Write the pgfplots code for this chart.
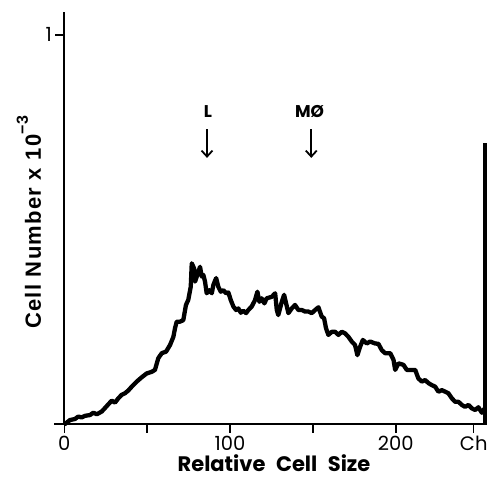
\documentclass[border=0pt]{standalone}
\usepackage{pgfplots}
\pgfplotsset{compat=1.18}
\usetikzlibrary{arrows.meta}
\usepackage{fontspec}
\setmainfont{Poppins}
\newfontfamily\helv{Liberation Sans}[LetterSpace=6]
\begin{document}
\begin{tikzpicture}
\begin{axis}[
  at={(54pt,78pt)}, anchor=south west,
  scale only axis,
  width=433pt, height=412pt,
  xmin=-6.2, xmax=255,
  ymin=0, ymax=1.059,
  axis x line=bottom,
  axis y line=middle,
  axis line style={-, line width=1.6pt},
  hide obscured x ticks=false,
  tick align=outside,
  major tick length=9pt,
  tick style={line width=1.4pt, black},
  xtick={0,50,100,150,200,247},
  xticklabels={0,,100,,200,Ch},
  ytick={1},
  yticklabels={1},
  /pgf/number format/assume math mode=true,
  tick label style={font=\fontsize{19.5}{19.5}\selectfont},
  xlabel={Relative\enspace Cell\enspace Size},
  xlabel style={at={(axis description cs:0.508,-0.094)}, anchor=center,
    font=\fontsize{21}{21}\selectfont\bfseries},
  ylabel={Cell Number x 10\raisebox{1.1ex}{\fontsize{16}{16}\selectfont −3}},
  ylabel style={at={(axis description cs:-0.058,0.49)}, anchor=center, rotate=90,
    font=\fontsize{22}{22}\selectfont\helv\bfseries},
  clip=false,
]
% histogram trace
\addplot[black, line width=4.3pt, line join=round] coordinates {
(0,0)(0.4,0)(3.4,0.010)(6.5,0.013)(8.4,0.019)(10.5,0.017)(12.5,0.021)
(15.5,0.023)(17.5,0.029)(19.6,0.025)(22.6,0.032)(25.6,0.046)(28.6,0.060)
(30.6,0.055)(32.6,0.066)(34.6,0.075)(36.6,0.079)(38.6,0.086)(40.7,0.096)
(43.7,0.109)(46.7,0.120)(49.7,0.130)(52.7,0.134)(54.7,0.139)(56.7,0.169)
(58.8,0.182)(61.4,0.186)(63.8,0.203)(65.8,0.224)(66.8,0.246)(67.8,0.263)
(69.8,0.263)(71.8,0.267)(73.4,0.306)(74.8,0.319)(76.3,0.353)(76.9,0.413)
(78.3,0.400)(78.9,0.366)(80.9,0.392)(81.9,0.404)(82.9,0.379)(83.9,0.383)
(84.9,0.366)(85.9,0.336)(87.5,0.344)(89.0,0.336)(89.9,0.357)(91.6,0.375)
(92.9,0.353)(94.4,0.340)(96.0,0.344)(97.6,0.336)(99.0,0.338)(100.4,0.319)
(102.0,0.302)(103.6,0.293)(105.0,0.297)(106.5,0.286)(108.0,0.291)(109.7,0.285)
(111.0,0.293)(113.1,0.302)(115.1,0.319)(116.5,0.340)(117.7,0.314)(119.1,0.323)
(120.7,0.310)(122.1,0.323)(125.2,0.327)(127.2,0.336)(128.2,0.293)(129.1,0.280)
(131.2,0.314)(132.6,0.332)(135.2,0.285)(137.2,0.297)(139.2,0.306)(141.2,0.293)
(143.3,0.293)(145.3,0.289)(147.3,0.289)(149.3,0.285)(151.3,0.293)(153.3,0.300)
(155.3,0.276)(156.7,0.272)(157.9,0.246)(159.3,0.229)(161.4,0.237)(163.4,0.237)
(165.4,0.229)(167.4,0.237)(169.4,0.233)(171.4,0.224)(173.4,0.212)(175.4,0.203)
(176.8,0.177)(178.5,0.199)(180.1,0.216)(182.5,0.207)(184.5,0.212)(187.5,0.207)
(189.5,0.206)(191.5,0.190)(193.5,0.182)(196.6,0.182)(198.6,0.165)(199.6,0.139)
(201.6,0.156)(204.6,0.152)(206.6,0.139)(209.7,0.139)(211.7,0.139)(213.6,0.117)
(215.7,0.109)(217.7,0.113)(219.7,0.105)(221.7,0.100)(223.7,0.096)(225.7,0.083)
(227.8,0.087)(229.8,0.083)(231.7,0.079)(233.8,0.066)(235.8,0.057)(237.8,0.057)
(239.8,0.049)(241.8,0.044)(243.8,0.049)(245.9,0.040)(247.9,0.036)(249.8,0.043)
(251.9,0.029)(253.6,0.040)
};
% overflow channel
\addplot[black, line width=4pt] coordinates {(253.6,0)(253.6,0.722)};
% markers
\draw[-{Straight Barb[length=6pt,width=11pt]}, line width=1.8pt] (axis cs:86.1,0.758) -- (axis cs:86.1,0.684);
\draw[-{Straight Barb[length=6pt,width=11pt]}, line width=1.8pt] (axis cs:149,0.758) -- (axis cs:149,0.684);
\node[font=\fontsize{17}{17}\selectfont\bfseries] at (axis cs:86.6,0.802) {L};
\node[font=\fontsize{17}{17}\selectfont\bfseries] at (axis cs:148,0.802) {MØ};
\end{axis}
\pgfresetboundingbox
\path[use as bounding box] (0,0) rectangle (487pt,502pt);
\end{tikzpicture}
\end{document}
